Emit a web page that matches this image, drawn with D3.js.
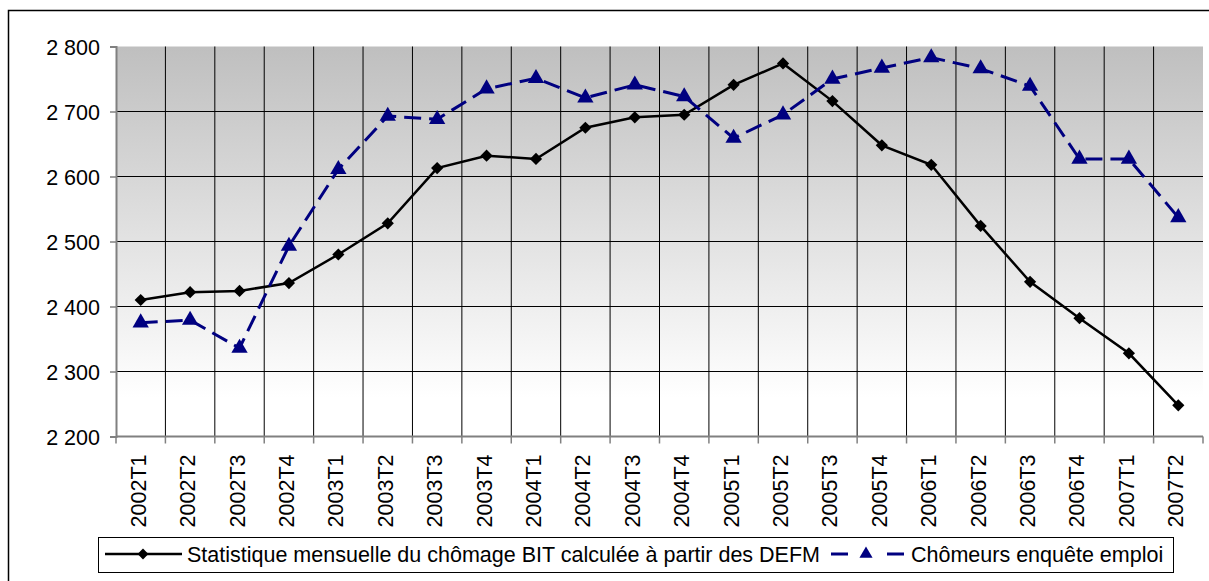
<!DOCTYPE html>
<html>
<head>
<meta charset="utf-8">
<script src="https://cdn.jsdelivr.net/npm/d3@7"></script>
<style>
  html, body { margin: 0; padding: 0; background: #fff; }
  svg { display: block; font-family: "Liberation Sans", Arial, sans-serif; }
</style>
</head>
<body>
<svg id="chart" width="1209" height="581"></svg>
<script>
const categories = ["2002T1","2002T2","2002T3","2002T4","2003T1","2003T2","2003T3","2003T4",
  "2004T1","2004T2","2004T3","2004T4","2005T1","2005T2","2005T3","2005T4",
  "2006T1","2006T2","2006T3","2006T4","2007T1","2007T2"];
const seriesDEFM = [2410, 2422, 2424, 2436, 2480, 2528, 2613, 2632,
  2627, 2675, 2691, 2695, 2741, 2774, 2716, 2648,
  2618, 2524, 2438, 2382, 2328, 2248];
const seriesEnquete = [2375, 2379, 2336, 2493, 2611, 2693, 2688, 2735,
  2751, 2721, 2741, 2723, 2659, 2695, 2750, 2767,
  2783, 2766, 2739, 2627, 2627, 2537];
const yTicks = [2200, 2300, 2400, 2500, 2600, 2700, 2800];
const seriesNames = ["Statistique mensuelle du chômage BIT calculée à partir des DEFM", "Chômeurs enquête emploi"];

const FS = 21.5;
const svg = d3.select("#chart");
const L = 116, R = 1203, T = 46.5, B = 436.5;

// outer frame
svg.append("rect").attr("x", 8.5).attr("y", 10.5).attr("width", 1300).attr("height", 700)
  .attr("fill", "#fff").attr("stroke", "#000").attr("stroke-width", 1.5);

const defs = svg.append("defs");
const grad = defs.append("linearGradient").attr("id", "bg").attr("x1", 0).attr("y1", 0).attr("x2", 0).attr("y2", 1);
grad.append("stop").attr("offset", "0%").attr("stop-color", "#bfbfbf");
grad.append("stop").attr("offset", "90%").attr("stop-color", "#ffffff");
grad.append("stop").attr("offset", "100%").attr("stop-color", "#ffffff");

const x = d3.scaleBand().domain(categories).range([L, R]).padding(0);
const y = d3.scaleLinear().domain([2200, 2800]).range([B, T]);

svg.append("rect").attr("x", L).attr("y", T).attr("width", R - L).attr("height", B - T).attr("fill", "url(#bg)");

// horizontal gridlines
svg.append("g").selectAll("line").data(yTicks.filter(v => v > 2200 && v < 2800)).join("line")
  .attr("x1", L).attr("x2", R).attr("y1", d => y(d)).attr("y2", d => y(d))
  .attr("stroke", "#000").attr("stroke-width", 1);

// vertical gridlines (interior boundaries)
const bounds = categories.map(c => x(c)).concat([R]);
svg.append("g").selectAll("line").data(bounds.slice(1, -1)).join("line")
  .attr("x1", d => d).attr("x2", d => d).attr("y1", T).attr("y2", B)
  .attr("stroke", "#000").attr("stroke-width", 1);

// y axis
const fr = d3.formatLocale({decimal: ",", thousands: "\u00a0", grouping: [3], currency: ["", " €"]});
const yAxis = d3.axisLeft(y).tickValues(yTicks).tickFormat(fr.format(",d")).tickSize(6).tickPadding(10);
const gy = svg.append("g").attr("transform", `translate(${L},0)`).call(yAxis);
gy.select(".domain").attr("stroke", "#808080").attr("stroke-width", 2);
gy.selectAll(".tick line").attr("stroke", "#808080").attr("stroke-width", 1.5);
gy.selectAll(".tick text").attr("font-size", FS).attr("fill", "#000")
  .attr("font-family", "'Liberation Sans', Arial, sans-serif").attr("dy", "0.36em");

// x axis
const gx = svg.append("g").attr("transform", `translate(0,${B})`);
gx.append("line").attr("x1", L).attr("x2", R).attr("y1", 0).attr("y2", 0)
  .attr("stroke", "#808080").attr("stroke-width", 2);
gx.selectAll("line.tk").data(bounds).join("line").attr("class", "tk")
  .attr("x1", d => d).attr("x2", d => d).attr("y1", 0).attr("y2", 7)
  .attr("stroke", "#808080").attr("stroke-width", 1.5);
gx.selectAll("text").data(categories).join("text")
  .attr("transform", d => `translate(${x(d) + x.bandwidth() / 2 + 5},18) rotate(-90)`)
  .attr("text-anchor", "end").attr("font-size", FS).attr("fill", "#000")
  .text(d => d);

const cx = d => x(d) + x.bandwidth() / 2;

// series 1: black solid with diamonds
const line1 = d3.line().x((d, i) => cx(categories[i])).y(d => y(d));
svg.append("path").datum(seriesDEFM).attr("d", line1)
  .attr("fill", "none").attr("stroke", "#000").attr("stroke-width", 2.5);
const diamond = d3.symbol().type(d3.symbolDiamond2).size(95);
svg.append("g").selectAll("path").data(seriesDEFM).join("path")
  .attr("d", diamond)
  .attr("transform", (d, i) => `translate(${cx(categories[i])},${y(d)})`)
  .attr("fill", "#000");

// series 2: navy dashed with triangles
svg.append("path").datum(seriesEnquete).attr("d", line1)
  .attr("fill", "none").attr("stroke", "#000080").attr("stroke-width", 3)
  .attr("stroke-dasharray", "17,8");
const tri = d3.symbol().type(d3.symbolTriangle).size(115);
svg.append("g").selectAll("path").data(seriesEnquete).join("path")
  .attr("d", tri)
  .attr("transform", (d, i) => `translate(${cx(categories[i])},${y(d)})`)
  .attr("fill", "#000080");

// legend
const lg = svg.append("g");
lg.append("rect").attr("x", 98.5).attr("y", 537.5).attr("width", 1075).attr("height", 35)
  .attr("fill", "#fff").attr("stroke", "#000").attr("stroke-width", 1);
const ly = 554;
lg.append("line").attr("x1", 105).attr("x2", 182).attr("y1", ly).attr("y2", ly)
  .attr("stroke", "#000").attr("stroke-width", 2.5);
lg.append("path").attr("d", d3.symbol().type(d3.symbolDiamond2).size(75)())
  .attr("transform", `translate(143,${ly})`).attr("fill", "#000");
lg.append("text").attr("x", 187).attr("y", 561.5).attr("font-size", FS).attr("fill", "#000").text(seriesNames[0]);
lg.append("line").attr("x1", 831).attr("x2", 904).attr("y1", ly).attr("y2", ly)
  .attr("stroke", "#000080").attr("stroke-width", 3).attr("stroke-dasharray", "17,39");
lg.append("path").attr("d", d3.symbol().type(d3.symbolTriangle).size(75)())
  .attr("transform", `translate(866,${ly})`).attr("fill", "#000080");
lg.append("text").attr("x", 911).attr("y", 561.5).attr("font-size", FS).attr("fill", "#000").text(seriesNames[1]);
</script>
</body>
</html>
